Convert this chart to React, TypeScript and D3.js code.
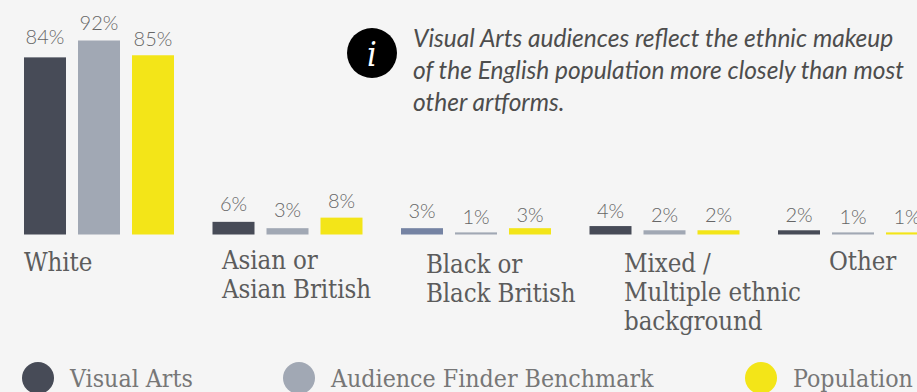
import React from "react";
import * as d3 from "d3";

const categories = ["White", "Asian or Asian British", "Black or Black British", "Mixed / Multiple ethnic background", "Other"];
const visualArts = [84, 6, 3, 4, 2];
const benchmark = [92, 3, 1, 2, 1];
const population = [85, 8, 3, 2, 1];
const seriesNames = ["Visual Arts", "Audience Finder Benchmark", "Population"];
const seriesColors = ["#474b57", "#a1a8b4", "#f3e518"];
const blackGroupColor = "#7583a3";
const categoryLines = [["White"], ["Asian or", "Asian British"], ["Black or", "Black British"], ["Mixed /", "Multiple ethnic", "background"], ["Other"]];
const categoryLabelX = [24, 222, 426, 624, 829];
const categoryLabelY = [271, 269, 272.5, 272, 270];
// Gap between the top of a bar and its value label, per category and series.
const valueLabelGaps = [
  [13, 11, 9],
  [11, 11, 10],
  [10, 8, 6],
  [8, 8, 8],
  [8, 8, 8],
];
const noteLines = [
  "Visual Arts audiences reflect the ethnic makeup",
  "of the English population more closely than most",
  "other artforms.",
];
const legendX = [38, 299, 761];

const W = 917;
const H = 392;
const base = 234.5;
const series = [visualArts, benchmark, population];

const slab = "'DejaVu Serif Condensed', 'DejaVu Serif', serif";
const humanist = "Lato, sans-serif";

export default function App() {
  const y = d3.scaleLinear().domain([0, 92]).range([base, base - 194]);
  const groupX = d3.scaleBand<string>().domain(categories).range([24, 24 + 188.5 * 5]).paddingInner(0).paddingOuter(0);
  const barX = d3.scaleBand<number>().domain([0, 1, 2]).range([0, 150]).paddingInner(12 / 54).paddingOuter(0);

  return (
    <svg
      width={W}
      height={H}
      style={{ position: "absolute", left: 0, top: 0, background: "#f5f5f5", display: "block" }}
    >
      <rect width={W} height={H} fill="#f5f5f5" />
      {categories.map((c, gi) => (
        <g key={c} transform={`translate(${groupX(c)},0)`}>
          {series.map((vals, si) => {
            const v = vals[gi];
            const fill = gi === 2 && si === 0 ? blackGroupColor : seriesColors[si];
            return (
              <g key={si}>
                <rect x={barX(si)} y={y(v)} width={barX.bandwidth()} height={base - y(v)} fill={fill} />
                <text
                  x={barX(si)! + barX.bandwidth() / 2}
                  y={y(v) - valueLabelGaps[gi][si]}
                  textAnchor="middle"
                  fontFamily={humanist}
                  fontWeight={300}
                  fontSize={20}
                  fill="#666666"
                >
                  {v}%
                </text>
              </g>
            );
          })}
        </g>
      ))}

      {categoryLines.map((lines, i) => (
        <text key={i} fontFamily={slab} fontSize={25.6} fill="#5c5c5c" style={{ letterSpacing: "-0.1px" }}>
          {lines.map((l, j) => (
            <tspan key={j} x={categoryLabelX[i]} y={categoryLabelY[i] + j * 29}>
              {l}
            </tspan>
          ))}
        </text>
      ))}

      <circle cx={372} cy={53} r={25} fill="#000" />
      <text x={372} y={66} textAnchor="middle" fontFamily={slab} fontStyle="italic" fontSize={34} fill="#fff">
        i
      </text>
      <text fontFamily="Lato, sans-serif" fontStyle="italic" fontSize={24.5} fill="#4d4d4d">
        {noteLines.map((l, i) => (
          <tspan key={i} x={413} y={46.5 + i * 32}>
            {l}
          </tspan>
        ))}
      </text>

      {seriesNames.map((s, i) => (
        <g key={s}>
          <circle cx={legendX[i]} cy={378} r={16} fill={seriesColors[i]} />
          <text x={legendX[i] + 32} y={387} fontFamily={slab} fontSize={24.7} fill="#777777">
            {s}
          </text>
        </g>
      ))}
    </svg>
  );
}
